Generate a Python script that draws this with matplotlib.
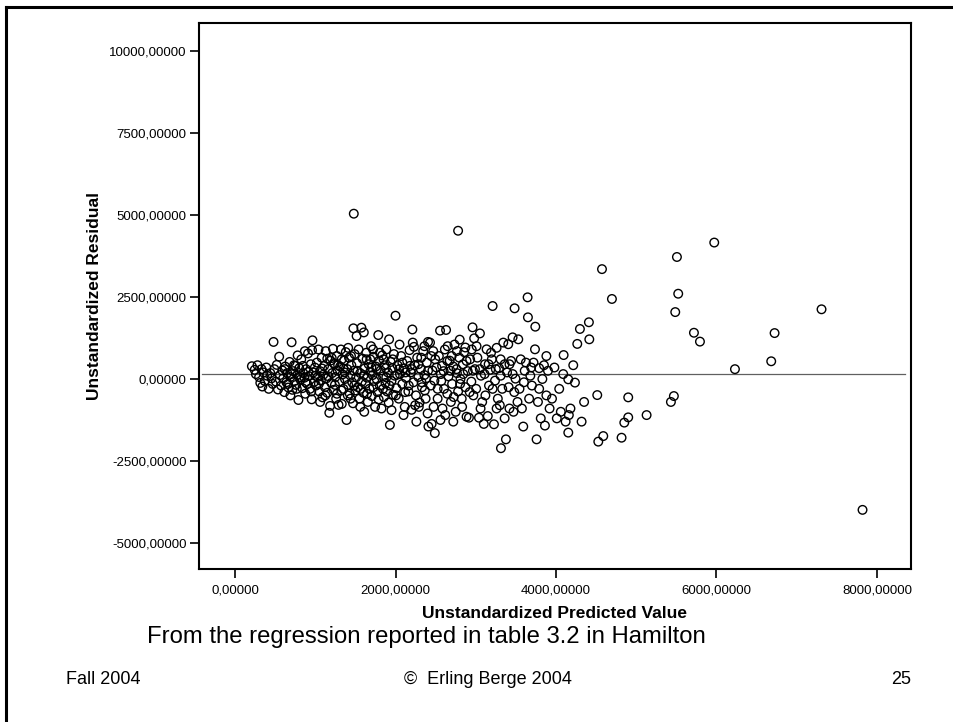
import matplotlib
matplotlib.use("Agg")
import matplotlib.pyplot as plt
from matplotlib.lines import Line2D

plt.rcParams['font.family'] = ['Liberation Sans', 'DejaVu Sans']
plt.rcParams['axes.unicode_minus'] = False

# (predicted value, residual), grouped by x range
bandA = [(210, 390), (245, 280), (260, 150), (280, 420), (300, 60), (315, -120), (330, 300),
         (340, -230), (355, 200), (370, -60), (390, 350), (400, 100), (420, -300), (440, 180),
         (455, 20), (470, -150), (480, 1130), (490, 300)]
bandB = [(510, -80), (520, 430), (535, -320), (550, 680), (560, 120), (575, -200), (590, 260),
         (600, 20), (615, -400), (625, 380), (640, -100), (650, 180), (665, -260), (680, 520),
         (690, 60), (705, 1120), (715, -330), (725, 240), (740, -60), (750, 400), (760, -180),
         (775, 120), (790, -640), (800, 330), (815, -20), (825, 600), (840, -280), (850, 180),
         (865, 40), (875, -450), (885, 300), (900, -150), (910, 780), (920, 90), (935, -300),
         (945, 450), (955, -620), (965, 1180), (975, 200), (985, -90), (995, 350), (960, 880),
         (870, 850), (780, 720), (690, -500)]
bandC = [(1010, -200), (1020, 500), (1030, 60), (1040, 900), (1050, -380), (1060, 240), (1070, -50),
         (1080, 650), (1090, -560), (1100, 130), (1110, 400), (1120, -250), (1130, 850), (1140, 20),
         (1150, -420), (1160, 300), (1175, -1030), (1185, -820), (1190, 560), (1200, -120),
         (1210, 180), (1220, 920), (1230, -330), (1240, 450), (1250, 60), (1260, -600), (1270, 700),
         (1280, 250), (1290, -790), (1300, -80), (1310, 380), (1320, 900), (1330, -760), (1340, 140),
         (1350, -300), (1360, 560), (1370, 0), (1380, 820), (1390, -1250), (1400, 300), (1410, -180),
         (1420, 650), (1430, -450), (1440, 100), (1450, 420), (1460, -100), (1470, -740),
         (1475, 1545), (1480, 250), (1490, 760), (1500, -350), (1515, 1310), (1060, -700),
         (1150, 620), (1270, -450), (1330, 600), (1410, 950), (1440, -600), (1230, 480), (1350, 320)]
bandD = [(1510, 50), (1520, 480), (1530, -250), (1540, 900), (1550, -600), (1560, 180), (1575, 1565),
         (1580, -80), (1590, 620), (1600, -420), (1605, 1420), (1615, 320), (1625, -150), (1635, 800),
         (1645, 40), (1655, -700), (1665, 450), (1675, -300), (1685, 220), (1695, 1000), (1705, -520),
         (1715, 120), (1725, 680), (1735, -60), (1745, -850), (1755, 380), (1765, 0), (1775, -400),
         (1785, 1340), (1795, 560), (1805, -200), (1815, 260), (1825, -900), (1835, 720), (1845, 80),
         (1855, -550), (1865, 420), (1875, -120), (1885, 900), (1895, -380), (1905, 200), (1915, -720),
         (1920, 1210), (1930, -1400), (1940, 520), (1950, -60), (1960, 330), (1970, -480), (1980, 760),
         (1990, 100), (2000, 1930), (1560, -850), (1640, 600), (1700, 350), (1790, -620), (1850, 600),
         (1950, -950), (1610, -1000), (1720, 900), (1880, 330)]
bandE = [(2010, -280), (2025, 420), (2040, -600), (2055, 150), (2070, 700), (2085, -150), (2100, 320),
         (2115, -850), (2130, 30), (2145, 550), (2160, -380), (2175, 880), (2190, 200), (2200, -940),
         (2210, 1510), (2215, 1110), (2225, -100), (2240, 420), (2255, -500), (2270, 650), (2285, 60),
         (2300, -720), (2315, 300), (2330, -250), (2345, 850), (2360, 120), (2375, -600), (2390, 500),
         (2405, 1130), (2410, -1450), (2430, 1110), (2440, -200), (2450, -1370), (2460, 260),
         (2475, -850), (2490, -1650), (2495, 600), (2050, 1050), (2120, -400), (2230, 980), (2320, 650),
         (2400, -1050), (2100, -1100), (2260, -1300), (2360, 1000), (2470, 850), (2180, 400),
         (2290, -850), (2380, 20), (2020, 130)]
bandF = [(2510, 350), (2525, -300), (2540, 700), (2555, 1475), (2570, -60), (2585, -900), (2600, 240),
         (2615, 900), (2630, 1495), (2645, -450), (2660, 80), (2675, 560), (2690, -700), (2705, -150),
         (2720, 380), (2735, 1050), (2750, -1000), (2765, 180), (2780, -380), (2795, 650), (2810, 0),
         (2825, -600), (2840, 450), (2855, 820), (2870, -250), (2885, -1150), (2900, 240), (2915, -1180),
         (2930, 600), (2945, -80), (2960, 1575), (2970, -500), (2980, 1240), (2990, 300), (2560, -1250),
         (2650, 1000), (2720, -1300), (2800, 1200), (2870, 960), (2620, -1100), (2700, 700),
         (2830, -850), (2950, 900), (2580, 400), (2760, 300)]
bandG = [(3005, -300), (3020, 650), (3040, -1180), (3052, 1390), (3065, 100), (3080, -700), (3100, -1370),
         (3115, 450), (3135, 905), (3150, -1130), (3165, -200), (3180, 280), (3200, 600), (3210, 2225),
         (3227, -1380), (3240, -50), (3260, 950), (3275, -600), (3290, 330), (3314, -2110), (3330, -300),
         (3343, 1110), (3376, -1840), (3390, 200), (3405, 1060), (3420, -900), (3440, 550), (3459, 1270),
         (3470, -1000), (3484, 2155), (3495, 10), (3050, 300), (3120, -500), (3190, 800), (3250, 300),
         (3310, 600), (3360, -1200), (3420, 450), (3480, -400), (3300, -800)]
bandH = [(3530, 1210), (3545, -300), (3560, 600), (3575, -900), (3592, -1450), (3610, 250), (3625, 500),
         (3646, 2490), (3650, 1880), (3665, -600), (3680, 100), (3700, -200), (3720, 500), (3738, 905),
         (3742, 1595), (3758, -1840), (3775, -700), (3790, 330), (3810, -1200), (3830, 0), (3850, 420),
         (3862, -1420), (3880, -500), (3900, 250), (3920, -900), (3950, -600), (3980, 350), (4010, -1200),
         (4040, -300), (4060, -1000), (4090, 150), (4095, 730), (4120, -1300), (4153, -10), (4153, -1635),
         (4180, -900)]
bandI = [(4215, 420), (4236, -110), (4265, 1070), (4298, 1525), (4319, -1300), (4410, 1730), (4415, 1210),
         (4514, -490), (4527, -1910), (4573, 3350), (4589, -1740), (4697, 2440), (4817, -1790),
         (4851, -1330), (4900, -560), (4900, -1170), (5129, -1100), (5432, -700), (5469, -520),
         (5486, 2040), (5507, 3720), (5523, 2600), (5719, 1410), (5794, 1140), (5972, 4160), (6230, 300),
         (6682, 540), (6724, 1400), (7309, 2125), (7820, -3990), (4160, -1100), (4350, -700)]
# extra points filling the dense middle of the cloud
bandDense = [(620, 300), (660, -150), (700, 150), (735, 420), (770, -300), (810, 50), (845, 400),
             (880, -100), (915, 220), (950, -380), (1000, 100), (1045, -150), (1085, 320), (1125, -500),
             (1165, 80), (1205, 640), (1245, -180), (1285, 420), (1325, -350), (1365, 200), (1405, -500),
             (1445, 700), (1485, -200), (1525, 250), (1565, -300), (1605, 120), (1645, -450), (1685, 600),
             (1725, -250), (1765, 300), (1805, 800), (1845, -300), (1885, 50), (1925, -200), (1965, 600),
             (2005, -500), (2045, 300), (2085, 500), (2125, 200), (2165, -200), (2205, 300), (2245, -800),
             (2285, 450), (2325, -100), (2365, -350), (2405, 250), (2445, 700), (2485, -50), (2525, -600),
             (2565, 150), (2605, -300), (2645, 550), (2685, 250), (2725, -550), (2765, 850), (2805, -150),
             (2845, 150), (2885, 550), (2925, -400), (2965, 250), (3010, 1000), (3060, -900), (3110, 150),
             (3160, 450), (3210, -300), (3260, -900), (3310, 100), (3360, 450), (3410, -250), (3460, 150),
             (3520, -700), (3600, -100), (3690, 350), (3790, -300), (3880, 700)]
outliers = [(1480, 5040), (2780, 4520)]

refLine = 140
xticks = [0, 2000, 4000, 6000, 8000]
xtickLabels = ['0,00000', '2000,00000', '4000,00000', '6000,00000', '8000,00000']
yticks = [-5000, -2500, 0, 2500, 5000, 7500, 10000]
ytickLabels = ['-5000,00000', '-2500,00000', '0,00000', '2500,00000', '5000,00000', '7500,00000', '10000,00000']

allPoints = bandA + bandB + bandC + bandD + bandE + bandF + bandG + bandH + bandI + bandDense + outliers
pred = [p[0] for p in allPoints]
resid = [p[1] for p in allPoints]

W, H = 954, 722
fig = plt.figure(figsize=(W / 100, H / 100), dpi=100)
ax = fig.add_axes([199 / W, 1 - 569 / H, 712 / W, 546 / H])

ax.axhline(refLine, xmin=0.004, xmax=0.992, color='#606060', linewidth=0.9, zorder=1)
ax.scatter(pred, resid, s=38, facecolors='none', edgecolors='black', linewidths=1.0, zorder=2)

ax.set_xlim(-449, 8424)
ax.set_ylim(-5793, 10854)
ax.set_xticks(xticks)
ax.set_xticklabels(xtickLabels)
ax.set_yticks(yticks)
ax.set_yticklabels(ytickLabels)
ax.tick_params(direction='out', length=6.5, width=1.2, labelsize=9.5, colors='black')
ax.tick_params(axis='x', pad=5)
ax.tick_params(axis='y', pad=2.5)
for s in ax.spines.values():
    s.set_linewidth(1.5)

fig.text(95 / W, 1 - 296 / H, 'Unstandardized Residual', rotation=90, ha='center', va='center',
         fontsize=12.5, fontweight='bold')
fig.text(555 / W, 1 - 613 / H, 'Unstandardized Predicted Value', ha='center', va='center',
         fontsize=12.5, fontweight='bold')
fig.text(147 / W, 1 - 637 / H, 'From the regression reported in table 3.2 in Hamilton', ha='left',
         va='center', fontsize=17.2)
fig.text(66 / W, 1 - 680 / H, 'Fall 2004', ha='left', va='center', fontsize=13)
fig.text(488 / W, 1 - 680 / H, '©  Erling Berge 2004', ha='center', va='center', fontsize=13)
fig.text(911 / W, 1 - 680 / H, '25', ha='right', va='center', fontsize=13)

# slide frame (top and left edges)
fig.add_artist(Line2D([6 / W, 1], [1 - 7 / H, 1 - 7 / H], color='black', linewidth=2.2))
fig.add_artist(Line2D([6 / W, 6 / W], [0, 1 - 7 / H], color='black', linewidth=2.2))

fig.savefig('out.png', dpi=100)
